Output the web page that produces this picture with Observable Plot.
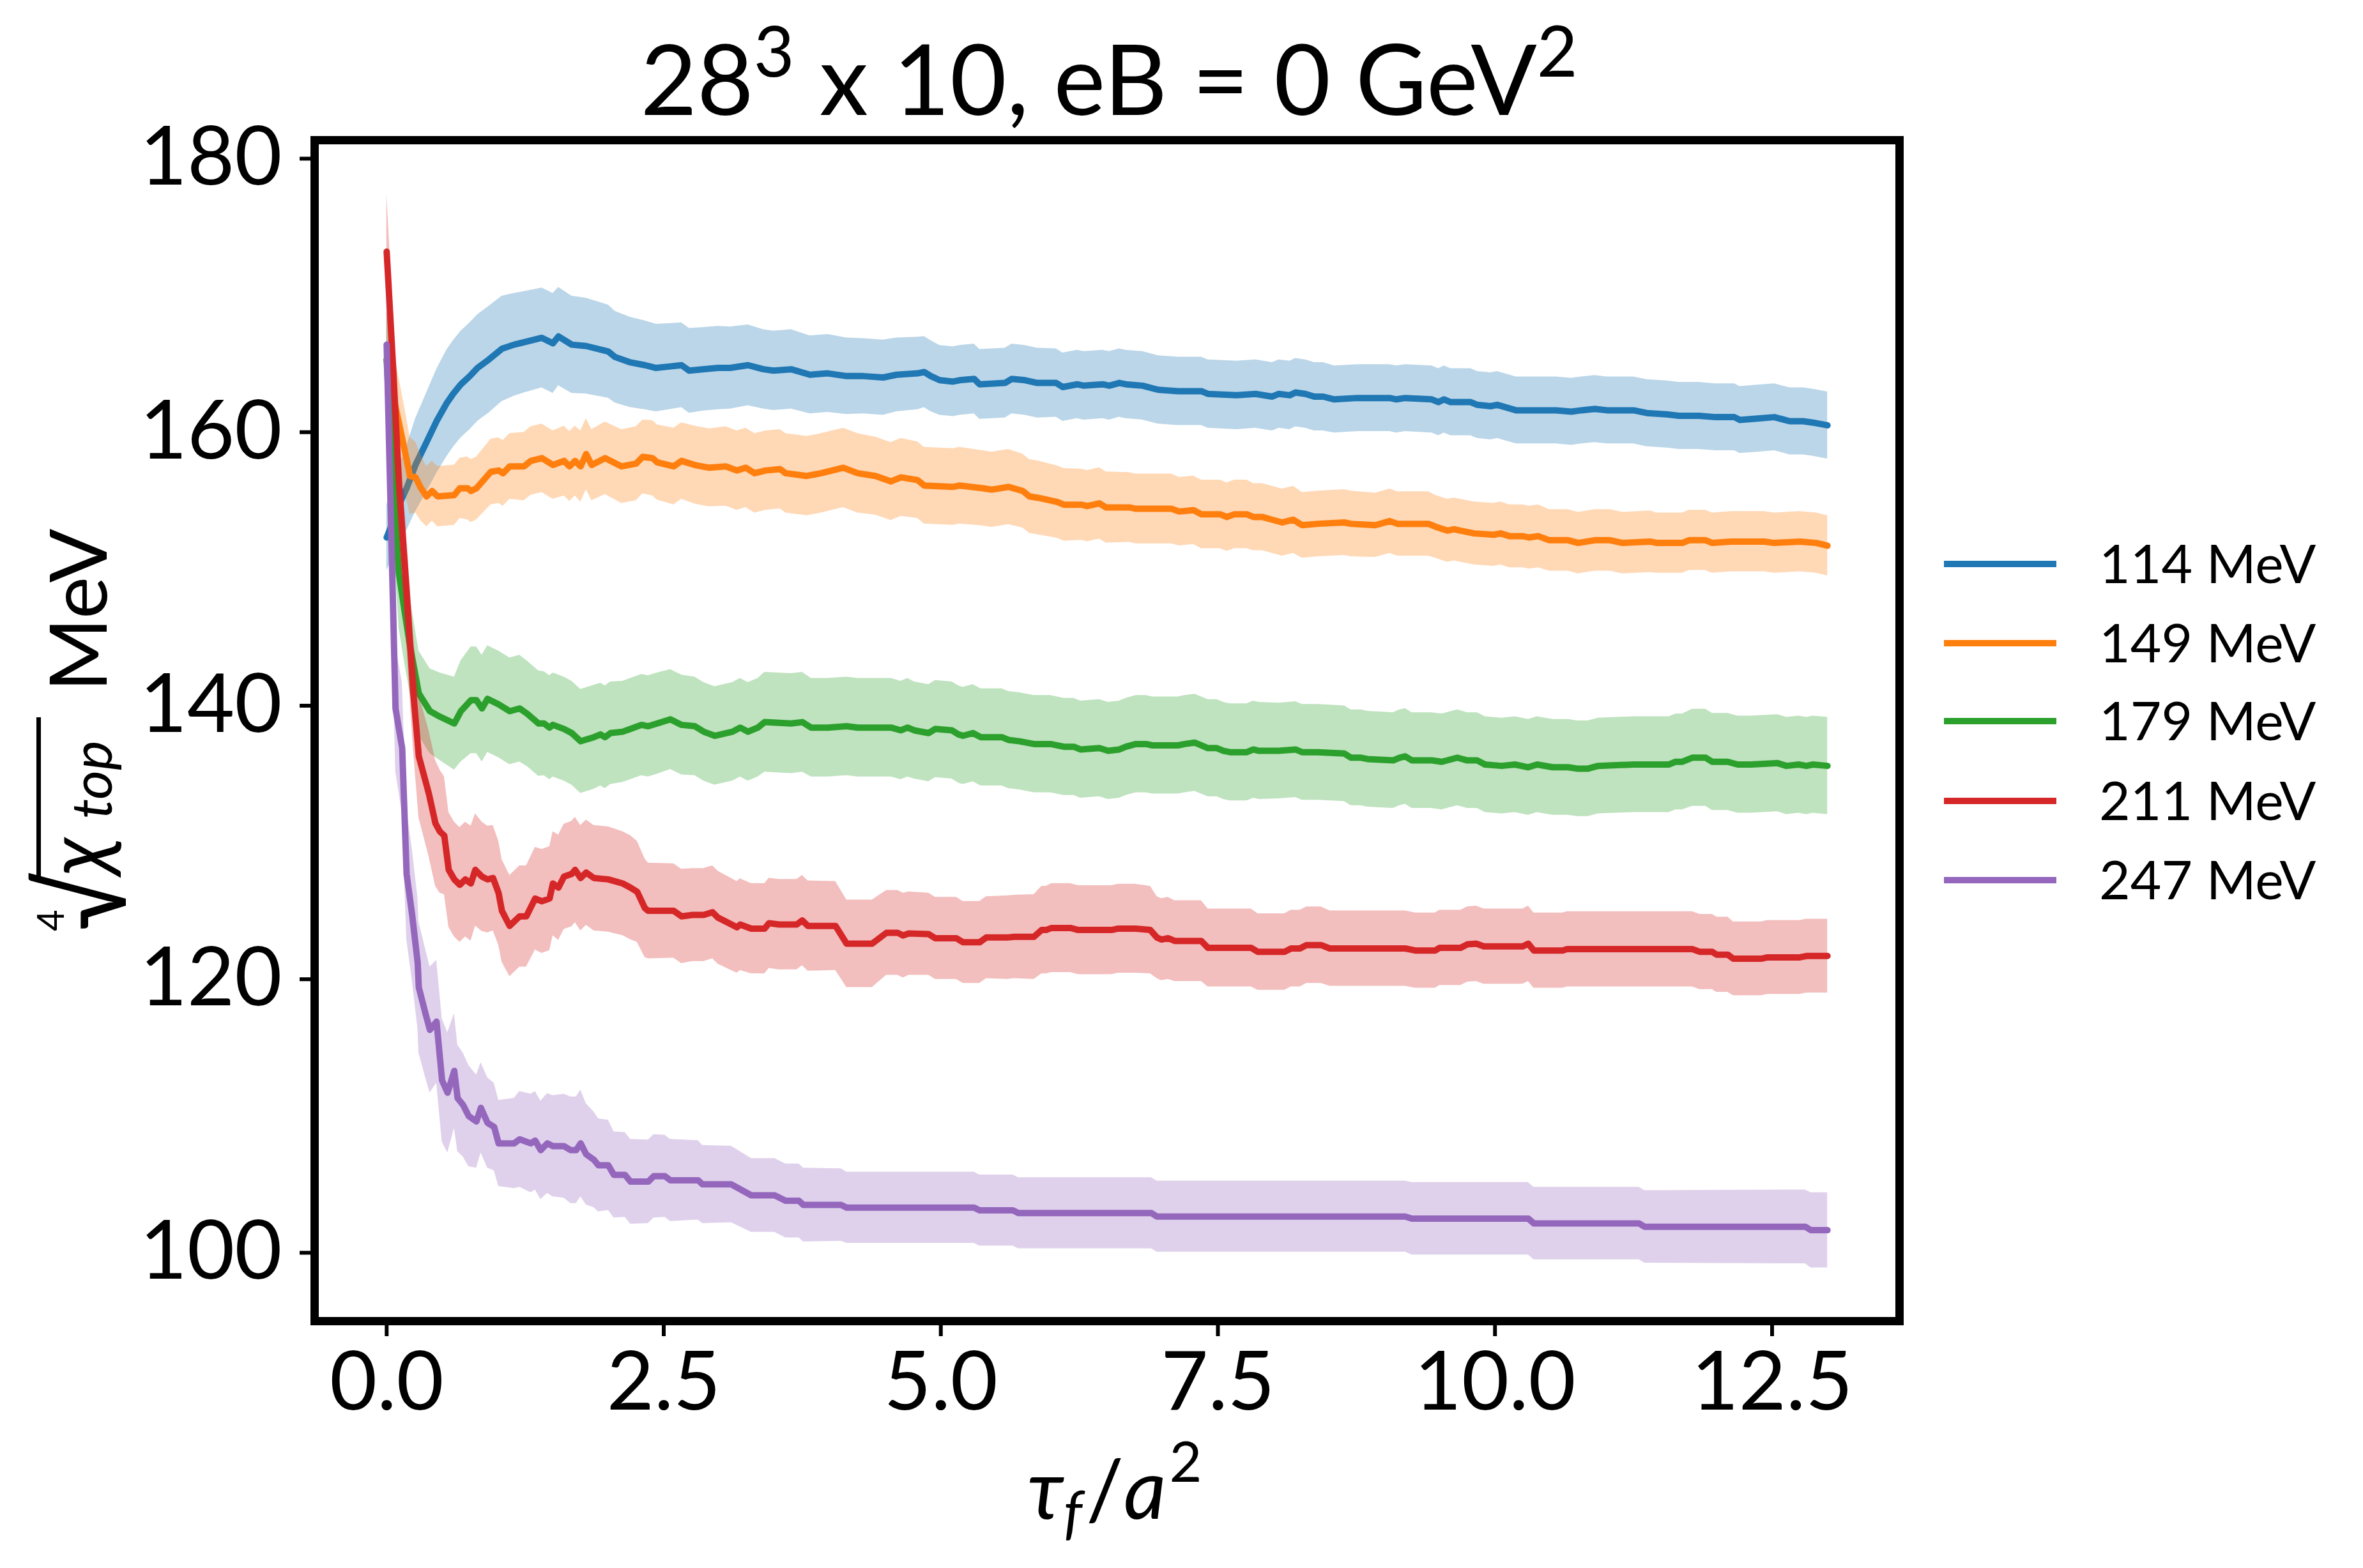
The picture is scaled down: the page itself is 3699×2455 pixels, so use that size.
<!DOCTYPE html>
<html><head><meta charset="utf-8">
<script src="https://cdn.jsdelivr.net/npm/d3@7"></script>
<script src="https://cdn.jsdelivr.net/npm/@observablehq/plot@0.6"></script>
<style>
html,body{margin:0;padding:0;background:#fff;}
#wrap{position:relative;width:3699px;height:2455px;font-family:Lato,"Open Sans",sans-serif;background:#fff;}
#wrap > svg{position:absolute;left:0;top:0;}
</style></head><body><div id="wrap"></div>
<script>
// ---- data: [tau_f/a^2, chi_top^(1/4) (MeV), error] ----
const labels = ["114 MeV", "149 MeV", "179 MeV", "211 MeV", "247 MeV"];
const colors = ["#1f77b4", "#ff7f0e", "#2ca02c", "#d62728", "#9467bd"];
const xTicks = [0, 2.5, 5, 7.5, 10, 12.5];
const yTicks = [100, 120, 140, 160, 180];

const s114 = [[0.00,152.3,2.4],[0.05,153.3,2.6],[0.10,154.5,2.8],[0.18,155.9,3.1],[0.26,157.6,3.4],[0.35,159.1,3.6],[0.45,160.8,3.8],[0.54,162.1,3.9],[0.60,162.8,3.9],[0.67,163.5,3.9],[0.75,164.1,3.9],[0.82,164.7,3.9],[0.92,165.3,3.9],[1.04,166.1,3.85],[1.15,166.4,3.75],[1.25,166.6,3.7],[1.40,166.9,3.65],[1.50,166.5,3.65],[1.55,167.0,3.6],[1.67,166.4,3.55],[1.80,166.3,3.5],[2.00,165.9,3.4],[2.06,165.5,3.35],[2.20,165.1,3.3],[2.33,164.9,3.25],[2.43,164.7,3.2],[2.55,164.8,3.15],[2.66,164.9,3.1],[2.73,164.5,3.1],[2.85,164.6,3.05],[2.99,164.7,3.05],[3.10,164.7,3.0],[3.26,164.9,2.95],[3.40,164.6,2.9],[3.49,164.5,2.9],[3.65,164.6,2.9],[3.82,164.2,2.85],[3.98,164.3,2.85],[4.15,164.1,2.8],[4.30,164.1,2.75],[4.48,164.0,2.75],[4.60,164.2,2.7],[4.79,164.3,2.65],[4.85,164.4,2.6],[4.91,164.1,2.6],[4.99,163.8,2.55],[5.11,163.7,2.55],[5.17,163.8,2.55],[5.30,163.9,2.55],[5.35,163.5,2.55],[5.58,163.6,2.55],[5.64,163.9,2.55],[5.76,163.8,2.55],[5.87,163.6,2.55],[6.04,163.6,2.5],[6.10,163.3,2.5],[6.23,163.5,2.5],[6.29,163.4,2.5],[6.46,163.5,2.5],[6.52,163.4,2.5],[6.61,163.6,2.5],[6.67,163.5,2.5],[6.82,163.4,2.5],[6.96,163.1,2.5],[7.14,163.0,2.5],[7.35,163.0,2.5],[7.41,162.8,2.5],[7.67,162.7,2.5],[7.84,162.8,2.5],[7.99,162.6,2.5],[8.05,162.8,2.5],[8.15,162.7,2.5],[8.20,162.9,2.5],[8.29,162.8,2.5],[8.37,162.6,2.5],[8.45,162.6,2.5],[8.55,162.4,2.45],[8.76,162.5,2.45],[9.05,162.5,2.45],[9.11,162.4,2.45],[9.19,162.5,2.45],[9.43,162.4,2.45],[9.49,162.2,2.45],[9.54,162.4,2.45],[9.60,162.2,2.45],[9.78,162.2,2.45],[9.84,162.0,2.45],[9.96,161.9,2.45],[10.02,162.0,2.45],[10.19,161.6,2.45],[10.31,161.6,2.45],[10.55,161.6,2.45],[10.69,161.5,2.45],[10.78,161.6,2.45],[10.90,161.7,2.45],[11.01,161.6,2.45],[11.25,161.6,2.45],[11.37,161.4,2.45],[11.55,161.3,2.45],[11.66,161.2,2.45],[11.84,161.2,2.45],[11.99,161.1,2.45],[12.16,161.1,2.45],[12.21,160.9,2.45],[12.37,161.0,2.45],[12.52,161.1,2.45],[12.66,160.8,2.45],[12.78,160.8,2.45],[12.87,160.7,2.45],[13.00,160.5,2.45]];

const s149 = [[0.00,165.3,3.5],[0.05,163.0,3.5],[0.11,160.7,3.3],[0.18,158.0,3.0],[0.21,156.8,2.8],[0.26,156.7,2.6],[0.31,155.9,2.4],[0.36,155.3,2.2],[0.41,155.7,2.2],[0.46,155.3,2.2],[0.61,155.4,2.2],[0.66,155.9,2.2],[0.73,155.9,2.3],[0.76,155.7,2.3],[0.81,155.9,2.3],[0.94,157.1,2.4],[1.01,157.2,2.4],[1.05,157.0,2.4],[1.11,157.5,2.4],[1.24,157.5,2.5],[1.30,157.9,2.5],[1.40,158.1,2.5],[1.50,157.6,2.5],[1.60,157.9,2.55],[1.65,157.5,2.55],[1.70,157.9,2.55],[1.75,157.5,2.6],[1.80,158.4,2.6],[1.85,157.6,2.6],[1.97,158.1,2.65],[2.12,157.5,2.7],[2.25,157.7,2.7],[2.31,158.2,2.7],[2.40,158.1,2.75],[2.44,157.8,2.75],[2.59,157.5,2.8],[2.66,157.9,2.8],[2.78,157.6,2.85],[2.91,157.4,2.85],[3.06,157.5,2.9],[3.16,157.2,2.9],[3.24,157.4,2.9],[3.32,157.0,2.9],[3.42,157.2,2.9],[3.55,157.3,2.9],[3.60,157.0,2.9],[3.79,156.8,2.9],[3.92,157.0,2.9],[4.12,157.4,2.9],[4.25,157.0,2.9],[4.41,156.8,2.85],[4.55,156.4,2.85],[4.64,156.7,2.85],[4.79,156.5,2.8],[4.85,156.1,2.8],[5.11,156.0,2.8],[5.17,156.1,2.8],[5.38,155.9,2.75],[5.46,155.8,2.75],[5.61,156.0,2.75],[5.74,155.7,2.7],[5.80,155.3,2.7],[5.88,155.2,2.7],[6.05,154.9,2.65],[6.11,154.7,2.65],[6.27,154.7,2.6],[6.32,154.6,2.6],[6.43,154.8,2.6],[6.49,154.5,2.6],[6.70,154.5,2.55],[6.76,154.4,2.55],[7.08,154.4,2.55],[7.15,154.2,2.5],[7.28,154.3,2.5],[7.35,154.0,2.5],[7.52,154.0,2.5],[7.58,153.8,2.5],[7.65,154.0,2.5],[7.76,154.0,2.5],[7.82,153.8,2.45],[7.90,153.8,2.45],[7.99,153.6,2.45],[8.08,153.4,2.45],[8.18,153.6,2.45],[8.26,153.2,2.4],[8.40,153.3,2.4],[8.64,153.4,2.4],[8.70,153.3,2.4],[8.92,153.2,2.35],[9.05,153.5,2.35],[9.12,153.3,2.35],[9.40,153.3,2.35],[9.46,153.1,2.3],[9.57,152.8,2.3],[9.63,152.9,2.3],[9.69,152.8,2.3],[9.81,152.6,2.3],[9.99,152.5,2.3],[10.05,152.6,2.3],[10.13,152.4,2.3],[10.25,152.4,2.3],[10.31,152.3,2.3],[10.39,152.4,2.3],[10.49,152.1,2.25],[10.66,152.1,2.25],[10.75,151.9,2.25],[10.90,152.1,2.25],[11.04,152.1,2.25],[11.15,151.9,2.25],[11.40,152.0,2.25],[11.46,151.9,2.2],[11.69,151.9,2.2],[11.75,152.1,2.2],[11.90,152.1,2.2],[11.96,151.9,2.2],[12.13,152.0,2.2],[12.43,152.0,2.2],[12.52,151.9,2.2],[12.75,152.0,2.2],[12.90,151.9,2.2],[13.00,151.7,2.2]];

const s179 = [[0.00,165.3,3.5],[0.05,157.5,3.8],[0.11,149.7,4.0],[0.16,147.0,3.8],[0.21,144.4,3.5],[0.29,140.9,3.1],[0.39,139.6,3.1],[0.48,139.2,3.2],[0.61,138.7,3.4],[0.67,139.6,3.7],[0.76,140.4,3.9],[0.81,140.4,3.9],[0.86,139.8,3.9],[0.91,140.5,3.9],[1.01,140.1,3.9],[1.11,139.6,3.9],[1.20,139.8,3.9],[1.27,139.4,3.85],[1.37,138.7,3.85],[1.42,138.7,3.8],[1.47,138.4,3.8],[1.50,138.6,3.8],[1.60,138.3,3.8],[1.67,138.0,3.8],[1.75,137.4,3.8],[1.87,137.7,3.8],[1.93,137.9,3.75],[1.97,137.7,3.75],[2.02,138.0,3.75],[2.13,138.1,3.7],[2.20,138.3,3.7],[2.30,138.6,3.7],[2.36,138.5,3.7],[2.44,138.7,3.7],[2.56,139.0,3.65],[2.66,138.6,3.65],[2.78,138.5,3.6],[2.86,138.1,3.6],[2.96,137.8,3.6],[3.12,138.1,3.6],[3.19,138.4,3.6],[3.26,138.1,3.6],[3.35,138.4,3.6],[3.41,138.8,3.65],[3.65,138.7,3.65],[3.75,138.8,3.65],[3.83,138.4,3.6],[3.98,138.4,3.6],[4.15,138.5,3.6],[4.25,138.4,3.6],[4.55,138.4,3.6],[4.64,138.2,3.6],[4.70,138.4,3.6],[4.76,138.2,3.55],[4.89,138.0,3.55],[4.95,138.3,3.55],[5.10,138.2,3.55],[5.16,137.9,3.55],[5.20,137.8,3.55],[5.29,138.0,3.55],[5.36,137.7,3.55],[5.55,137.7,3.55],[5.61,137.5,3.55],[5.71,137.4,3.55],[5.84,137.2,3.55],[5.99,137.2,3.55],[6.11,137.0,3.55],[6.20,137.0,3.55],[6.26,136.8,3.55],[6.43,136.9,3.55],[6.51,136.7,3.55],[6.61,136.8,3.55],[6.67,137.0,3.55],[6.76,137.2,3.55],[6.85,137.2,3.55],[6.91,137.1,3.55],[7.02,137.1,3.55],[7.14,137.1,3.55],[7.20,137.2,3.55],[7.29,137.3,3.55],[7.41,136.9,3.55],[7.49,136.9,3.55],[7.55,136.7,3.55],[7.61,136.6,3.55],[7.76,136.6,3.55],[7.82,136.8,3.55],[7.87,136.7,3.55],[8.05,136.7,3.5],[8.20,136.8,3.5],[8.26,136.6,3.5],[8.40,136.6,3.5],[8.64,136.5,3.5],[8.70,136.2,3.5],[8.79,136.2,3.5],[8.85,136.1,3.5],[9.08,136.0,3.5],[9.14,136.2,3.5],[9.19,136.3,3.5],[9.25,136.0,3.5],[9.43,136.0,3.5],[9.52,135.9,3.5],[9.66,136.2,3.5],[9.75,136.0,3.5],[9.84,136.0,3.5],[9.91,135.7,3.5],[10.06,135.6,3.5],[10.18,135.7,3.5],[10.30,135.5,3.5],[10.38,135.7,3.5],[10.52,135.5,3.5],[10.66,135.5,3.5],[10.74,135.4,3.5],[10.84,135.4,3.5],[10.93,135.6,3.5],[11.25,135.7,3.5],[11.31,135.7,3.5],[11.57,135.7,3.5],[11.63,135.9,3.5],[11.69,135.9,3.5],[11.78,136.2,3.55],[11.90,136.2,3.55],[11.96,135.9,3.55],[12.10,135.9,3.55],[12.19,135.7,3.55],[12.31,135.7,3.55],[12.55,135.8,3.55],[12.63,135.6,3.55],[12.74,135.7,3.55],[12.81,135.6,3.55],[12.87,135.7,3.55],[13.00,135.6,3.55]];

const s211 = [[0.00,173.2,4.2],[0.06,164.5,4.2],[0.11,156.4,4.1],[0.18,148.4,4.0],[0.24,141.0,4.2],[0.29,136.3,4.5],[0.38,133.6,4.6],[0.44,131.4,4.6],[0.48,130.8,4.5],[0.52,130.5,4.3],[0.56,128.0,4.2],[0.61,127.3,4.2],[0.66,126.9,4.2],[0.71,127.3,4.2],[0.76,127.0,4.2],[0.80,128.0,4.1],[0.86,127.5,4.0],[0.91,127.3,3.9],[0.96,127.4,3.85],[1.01,126.3,3.8],[1.04,125.0,3.75],[1.11,123.9,3.7],[1.20,124.6,3.7],[1.26,124.6,3.7],[1.34,125.9,3.75],[1.40,125.7,3.8],[1.47,125.9,3.8],[1.50,127.0,3.8],[1.55,126.7,3.85],[1.60,127.5,3.85],[1.67,127.7,3.85],[1.70,128.0,3.85],[1.75,127.4,3.85],[1.80,127.8,3.85],[1.87,127.4,3.85],[2.00,127.3,3.85],[2.13,127.0,3.8],[2.20,126.7,3.8],[2.26,126.4,3.7],[2.33,125.2,3.6],[2.36,125.0,3.5],[2.59,125.0,3.45],[2.66,124.6,3.45],[2.76,124.7,3.4],[2.86,124.7,3.4],[2.94,124.9,3.4],[2.99,124.5,3.4],[3.16,123.8,3.35],[3.19,124.0,3.35],[3.29,123.7,3.3],[3.41,123.7,3.3],[3.45,124.1,3.3],[3.54,124.0,3.3],[3.70,124.0,3.3],[3.75,124.3,3.3],[3.80,123.9,3.3],[4.05,123.9,3.25],[4.15,122.6,3.2],[4.38,122.6,3.2],[4.51,123.4,3.1],[4.61,123.4,3.1],[4.66,123.2,3.1],[4.71,123.35,3.05],[4.89,123.3,3.0],[4.95,123.0,3.0],[5.14,123.0,3.0],[5.20,122.7,3.0],[5.35,122.7,3.0],[5.41,123.05,3.0],[5.60,123.05,3.05],[5.66,123.1,3.05],[5.84,123.1,3.1],[5.91,123.6,3.2],[5.95,123.6,3.2],[6.00,123.75,3.25],[6.17,123.75,3.25],[6.24,123.6,3.25],[6.54,123.6,3.25],[6.60,123.7,3.25],[6.76,123.7,3.25],[6.89,123.6,3.2],[6.95,123.05,3.0],[6.99,122.9,3.0],[7.05,123.0,3.0],[7.11,122.8,2.95],[7.35,122.8,2.95],[7.41,122.3,2.85],[7.80,122.3,2.85],[7.86,122.0,2.8],[8.10,122.0,2.8],[8.16,122.25,2.8],[8.24,122.25,2.8],[8.30,122.5,2.8],[8.43,122.5,2.8],[8.51,122.25,2.75],[9.19,122.25,2.75],[9.28,122.1,2.75],[9.46,122.1,2.75],[9.50,122.3,2.75],[9.69,122.3,2.75],[9.75,122.55,2.75],[9.83,122.6,2.75],[9.90,122.4,2.75],[10.25,122.4,2.75],[10.30,122.6,2.75],[10.35,122.1,2.75],[10.61,122.1,2.75],[10.65,122.2,2.75],[11.78,122.2,2.75],[11.85,122.0,2.75],[11.96,122.0,2.75],[12.00,121.8,2.75],[12.10,121.8,2.75],[12.15,121.5,2.7],[12.40,121.5,2.7],[12.46,121.6,2.7],[12.75,121.6,2.7],[12.81,121.7,2.7],[13.00,121.7,2.7]];

const s247 = [[0.00,166.4,4.5],[0.08,139.8,4.6],[0.14,136.9,4.8],[0.18,127.7,4.8],[0.23,124.7,4.8],[0.28,121.2,4.8],[0.29,119.4,4.8],[0.35,117.5,4.7],[0.39,116.3,4.6],[0.45,116.9,4.5],[0.50,112.6,4.5],[0.55,111.7,4.4],[0.61,113.3,4.2],[0.64,111.3,3.9],[0.69,110.8,3.8],[0.74,110.0,3.7],[0.81,109.6,3.4],[0.85,110.6,3.3],[0.91,109.5,3.3],[0.97,109.2,3.2],[1.01,108.0,3.15],[1.15,108.0,3.3],[1.20,108.3,3.5],[1.30,108.0,3.6],[1.34,108.2,3.6],[1.39,107.5,3.6],[1.45,108.0,3.65],[1.50,107.8,3.7],[1.60,107.8,3.8],[1.66,107.5,3.9],[1.71,107.5,3.9],[1.75,108.0,3.9],[1.80,107.2,3.7],[1.87,106.8,3.5],[1.91,106.4,3.4],[2.00,106.4,3.3],[2.05,105.7,3.15],[2.15,105.7,3.1],[2.20,105.2,3.1],[2.36,105.2,3.05],[2.41,105.6,3.05],[2.51,105.6,3.0],[2.56,105.3,3.0],[2.81,105.3,2.9],[2.85,105.0,2.85],[3.11,105.0,2.8],[3.29,104.2,2.7],[3.50,104.2,2.7],[3.60,103.8,2.7],[3.72,103.8,2.7],[3.76,103.5,2.7],[4.10,103.5,2.65],[4.15,103.3,2.6],[5.30,103.3,2.6],[5.35,103.1,2.6],[5.65,103.1,2.6],[5.70,102.9,2.6],[6.90,102.9,2.6],[6.95,102.65,2.6],[9.19,102.65,2.6],[9.25,102.5,2.65],[10.30,102.5,2.65],[10.35,102.15,2.65],[11.30,102.15,2.65],[11.35,101.9,2.65],[12.80,101.9,2.7],[12.85,101.65,2.75],[13.00,101.65,2.75]];

const seriesList = [s114, s149, s179, s211, s247];

// ---- chart ----
const W = 3699, H = 2455;
const marks = [];
seriesList.forEach((s, i) => {
  marks.push(Plot.areaY(s, {x: d => d[0], y1: d => d[1] - d[2], y2: d => d[1] + d[2], fill: colors[i], fillOpacity: 0.3}));
  marks.push(Plot.lineY(s, {x: d => d[0], y: d => d[1], stroke: colors[i], strokeWidth: 10}));
});
marks.push(Plot.axisX({ticks: xTicks, tickFormat: d3.format(".1f"), tickSize: 24, tickPadding: 24, strokeWidth: 6, fontSize: 128, label: null}));
marks.push(Plot.axisY({ticks: yTicks, tickFormat: d3.format("d"), tickSize: 23, tickPadding: 28, strokeWidth: 6, fontSize: 128, label: null}));
marks.push(Plot.frame({stroke: "#000", strokeWidth: 13}));

const chart = Plot.plot({
  width: W, height: H,
  marginLeft: 492, marginRight: W - 2973, marginTop: 219, marginBottom: H - 2068,
  x: {domain: [-0.65, 13.65]},
  y: {domain: [95.0, 181.35]},
  style: {fontFamily: "Lato, 'Open Sans', sans-serif", background: "#fff", color: "#000", overflow: "visible"},
  marks
});
const wrap = document.getElementById("wrap");
wrap.appendChild(chart);

// ---- overlay texts: title, axis labels, legend ----
const ov = d3.select(wrap).append("svg").attr("width", W).attr("height", H)
  .style("position", "absolute").style("left", 0).style("top", 0)
  .style("font-family", "Lato, 'Open Sans', sans-serif").style("pointer-events", "none");

const title = ov.append("text").attr("x", 1736).attr("y", 180).attr("text-anchor", "middle").attr("font-size", 153).attr("fill", "#000");
title.append("tspan").text("28");
title.append("tspan").attr("font-size", 110).attr("dy", -60).text("3");
title.append("tspan").attr("font-size", 153).attr("dy", 60).text(" x 10, eB = 0 GeV");
title.append("tspan").attr("font-size", 110).attr("dy", -60).text("2");

const xl = ov.append("text").attr("x", 1745).attr("y", 2378).attr("text-anchor", "middle").attr("font-size", 130).attr("fill", "#000");
xl.append("tspan").attr("font-style", "italic").text("τ");
xl.append("tspan").attr("font-style", "italic").attr("font-size", 92).attr("dy", 22).text("f");
xl.append("tspan").attr("font-size", 130).attr("dy", -22).attr("dx", 6).text("/");
xl.append("tspan").attr("font-style", "italic").text("a");
xl.append("tspan").attr("font-size", 88).attr("dy", -58).attr("dx", 5).text("2");

const legY = [883, 1007, 1129, 1254, 1378];
labels.forEach((lab, i) => {
  ov.append("line").attr("x1", 3043).attr("x2", 3219).attr("y1", legY[i]).attr("y2", legY[i])
    .attr("stroke", colors[i]).attr("stroke-width", 10);
  ov.append("text").attr("x", 3286).attr("y", legY[i]).attr("dy", "0.36em").attr("font-size", 84).attr("fill", "#000").text(lab);
});

// y label: local frame rotated -90deg, baseline at screen x=167, centre at screen y=1145
const yg = ov.append("g").attr("transform", "translate(167,1145) rotate(-90)").attr("fill", "#000");
yg.append("text").attr("x", -313).attr("y", -67).attr("font-size", 58).text("4");
yg.append("text").attr("x", -312).attr("y", 30).attr("font-size", 178).attr("transform", "translate(-312,0) scale(0.82,1) translate(312,0)").text("√");
yg.append("rect").attr("x", -236).attr("y", -110).attr("width", 258).attr("height", 7);
yg.append("text").attr("x", -224).attr("y", 0).attr("font-size", 130).attr("font-style", "italic").text("χ");
yg.append("text").attr("x", -137).attr("y", 8).attr("font-size", 88).attr("font-style", "italic").text("top");
yg.append("text").attr("x", 62).attr("y", 0).attr("font-size", 125).text("MeV");
</script></body></html>
